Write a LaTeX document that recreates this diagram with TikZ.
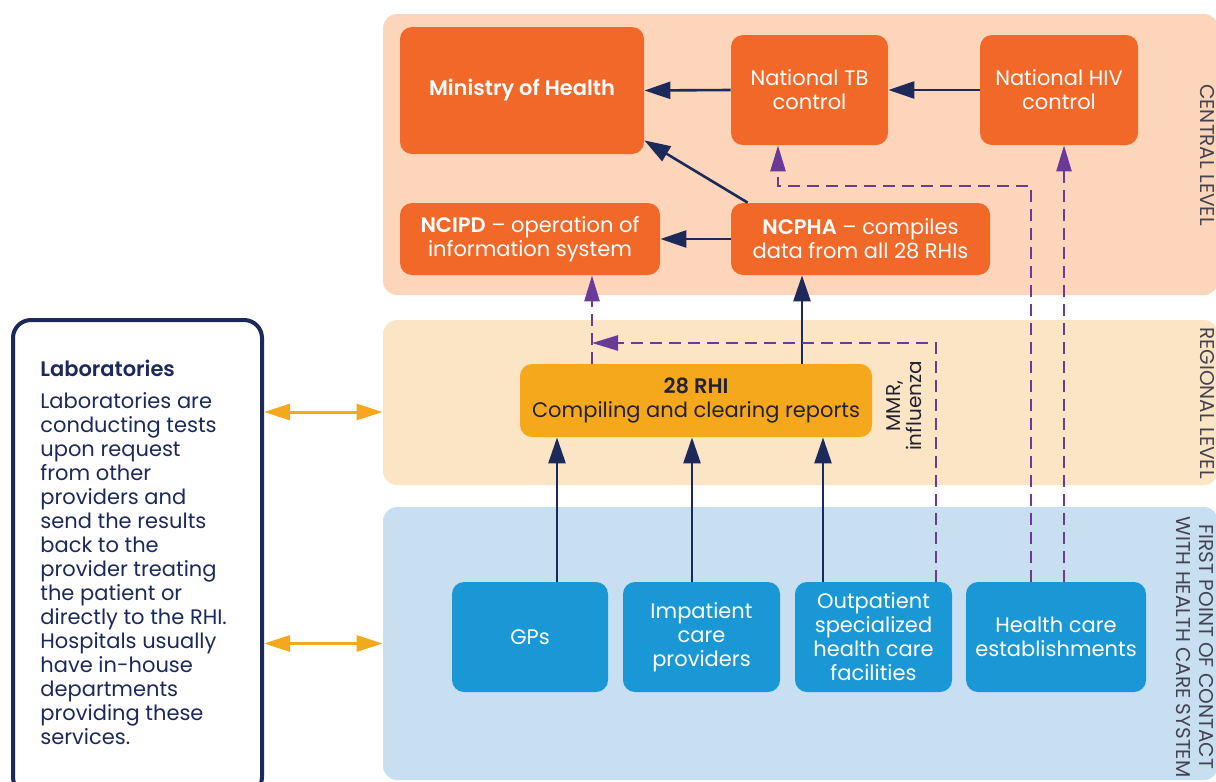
\documentclass[tikz,border=0pt]{standalone}
\usepackage{fontspec}
\setmainfont{Poppins}[BoldFont={* SemiBold}]
\usetikzlibrary{arrows.meta}
\definecolor{centralpeach}{HTML}{FCD5BA}
\definecolor{regionalsand}{HTML}{FCE5C4}
\definecolor{firstblue}{HTML}{C8DEF1}
\definecolor{boxorange}{HTML}{F26829}
\definecolor{rhiyellow}{HTML}{F5A81C}
\definecolor{boxblue}{HTML}{1A98D6}
\definecolor{navy}{HTML}{1C2A5B}
\definecolor{linkpurple}{HTML}{6A3A9A}
\definecolor{laborange}{HTML}{F4A81D}
\definecolor{textdark}{HTML}{222233}

\begin{document}
\begin{tikzpicture}[x=0.5pt, y=-0.5pt, font=\fontsize{10.5}{12}\selectfont,
  band/.style={rounded corners=7pt, inner sep=0pt, minimum width=417.5pt},
  central box/.style={rounded corners=6pt, fill=boxorange, text=white, align=center, inner sep=1pt},
  rhi box/.style={rounded corners=6pt, fill=rhiyellow, text=textdark, align=center, inner sep=1pt},
  first box/.style={rounded corners=6pt, fill=boxblue, text=white, align=center, inner sep=1pt, minimum height=55pt},
  level/.style={rotate=-90, text=textdark!85, align=center, font=\fontsize{10}{11.5}\selectfont},
  solid link/.style={draw=navy, line width=1.3pt, -{Triangle[length=13pt,width=8.5pt]}},
  data link/.style={draw=linkpurple, line width=1.3pt, dash pattern=on 6pt off 3.5pt, -{Triangle[length=13pt,width=7.5pt]}},
  lab link/.style={draw=laborange, line width=1.5pt, {Triangle[length=13pt,width=8pt]}-{Triangle[length=13pt,width=8pt]}}]
\useasboundingbox (0,0) rectangle (1216,782);
\clip (0,0) rectangle (1216,782);

% levels
\node[band, fill=centralpeach, minimum height=140.5pt] (central) at (800.5,154.5) {};
\node[band, fill=regionalsand, minimum height=82.5pt] (regional) at (800.5,402.5) {};
\node[band, fill=firstblue, minimum height=136.5pt] (first) at (800.5,643.5) {};
\node[level] (centrallabel) at (1207,155) {CENTRAL LEVEL};
\node[level] (regionallabel) at (1207,403) {REGIONAL LEVEL};
\node[level] (firstlabel) at (1195,647) {FIRST POINT OF CONTACT\\WITH HEALTH CARE SYSTEM};

% central level
\node[central box, minimum width=122pt, minimum height=63.5pt] (moh) at (522,90.5) {\textbf{Ministry of Health}};
\node[central box, minimum width=78.5pt, minimum height=55pt] (tb) at (809.5,90) {National TB\\control};
\node[central box, minimum width=79pt, minimum height=55pt] (hiv) at (1059,90) {National HIV\\control};
\node[central box, minimum width=130pt, minimum height=36pt] (ncipd) at (530,239) {\textbf{NCIPD} – operation of\\information system};
\node[central box, minimum width=129.5pt, minimum height=36pt] (ncpha) at (860.5,239) {\textbf{NCPHA} – compiles\\data from all 28 RHIs};

% regional level
\node[rhi box, minimum width=176pt, minimum height=36.5pt] (rhi) at (696,400.5) {\textbf{28 RHI}\\Compiling and clearing reports};
\node[rotate=90, align=center, text=textdark, font=\fontsize{10}{10.5}\selectfont] (mmr) at (904,406) {MMR,\\influenza};

% first point of contact
\node[first box, minimum width=78pt] (gps) at (530,637) {GPs};
\node[first box, minimum width=78.5pt] (inp) at (701.5,637) {Impatient\\care\\providers};
\node[first box, minimum width=78.5pt] (outp) at (873.5,637) {Outpatient\\specialized\\health care\\facilities};
\node[first box, minimum width=90pt] (hce) at (1056,637) {Health care\\establishments};

% laboratories
\node[draw=navy, line width=2pt, rounded corners=9pt, minimum width=124.5pt, minimum height=237.5pt] (labs) at (137.5,557.5) {};
\node[anchor=north west, inner sep=0pt, align=left, text=navy] (labtext) at (40,360) {\textbf{Laboratories}\\[4pt]
Laboratories are\\conducting tests\\upon request\\from other\\providers and\\send the results\\back to the\\provider treating\\the patient or\\directly to the RHI.\\Hospitals usually\\have in-house\\departments\\providing these\\services.};

\coordinate (regin) at ([yshift=-4.75pt]regional.west);
\coordinate (mmrend) at (592,343);
\coordinate (tbturn) at (778,186);

\path[every edge/.append style={solid link}]
(tb.west) edge (moh.east)
(hiv.west) edge (tb.east)
(ncpha.west) edge (ncipd.east)
([xshift=8.5pt]ncpha.north west) edge ([yshift=7pt]moh.south east)
([xshift=53pt]rhi.north) edge ([xshift=-29.25pt]ncpha.south)
([xshift=13.5pt]gps.north) edge ([xshift=13.5pt]gps.north |- rhi.south)
([xshift=-4.75pt]inp.north) edge ([xshift=-4.75pt]inp.north |- rhi.south)
([xshift=-25.25pt]outp.north) edge ([xshift=-25.25pt]outp.north |- rhi.south);

\draw[data link] ([xshift=-52pt]rhi.north) -- ([xshift=31pt]ncipd.south);
\draw[data link] ([xshift=31.25pt]outp.north) |- (mmrend);
\draw[data link] ([xshift=-12.5pt]hce.north) |- (tbturn) -- ([xshift=-15.75pt]tb.south);
\draw[data link] ([xshift=4pt]hce.north) -- ([xshift=2.5pt]hiv.south);

\draw[lab link] (labs.east |- regin) -- (regin);
\draw[lab link] (labs.east |- first.west) -- (first.west);
\end{tikzpicture}
\end{document}
